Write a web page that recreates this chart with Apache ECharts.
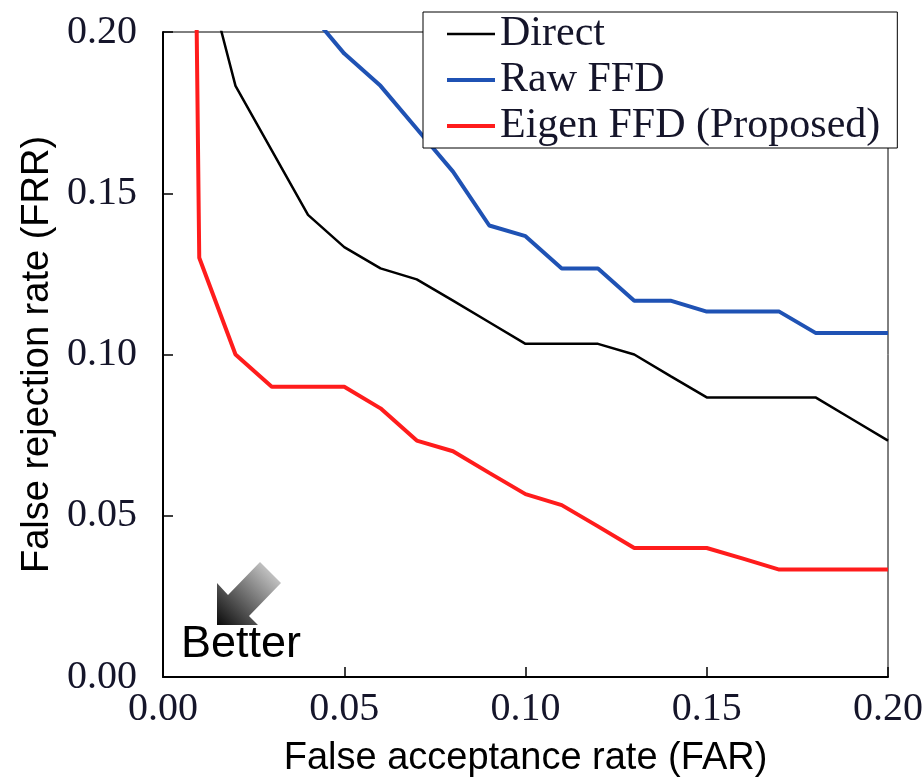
<!DOCTYPE html>
<html>
<head>
<meta charset="utf-8">
<script src="https://cdn.jsdelivr.net/npm/echarts@6/dist/echarts.min.js"></script>
<style>
html,body{margin:0;padding:0;background:#fff;}
#chart{width:924px;height:777px;}
</style>
</head>
<body>
<div id="chart"></div>
<script>
// ---- data ----
const seriesNames = ['Direct', 'Raw FFD', 'Eigen FFD (Proposed)'];

const directFAR = [0.01,0.02,0.03,0.04,0.05,0.06,0.07,0.08,0.09,0.10,0.11,0.12,0.13,0.14,0.15,0.16,0.17,0.18,0.19,0.20];
const directFRR = [0.2267,0.1833,0.1633,0.1433,0.1333,0.1267,0.1233,0.1167,0.1100,0.1033,0.1033,0.1033,0.1000,0.0933,0.0867,0.0867,0.0867,0.0867,0.0800,0.0733];

const rawFAR = [0.04,0.05,0.06,0.07,0.08,0.09,0.10,0.11,0.12,0.13,0.14,0.15,0.16,0.17,0.18,0.19,0.20];
const rawFRR = [0.2067,0.1933,0.1833,0.1700,0.1567,0.1400,0.1367,0.1267,0.1267,0.1167,0.1167,0.1133,0.1133,0.1133,0.1067,0.1067,0.1067];

const eigenFAR = [0.009,0.01,0.02,0.03,0.04,0.05,0.06,0.07,0.08,0.09,0.10,0.11,0.12,0.13,0.14,0.15,0.16,0.17,0.18,0.19,0.20];
const eigenFRR = [0.2300,0.1300,0.1000,0.0900,0.0900,0.0900,0.0833,0.0733,0.0700,0.0633,0.0567,0.0533,0.0467,0.0400,0.0400,0.0400,0.0367,0.0333,0.0333,0.0333,0.0333];

const axisMin = 0, axisMax = 0.20, axisStep = 0.05;
const xTitle = 'False acceptance rate (FAR)';
const yTitle = 'False rejection rate (FRR)';
const noteText = 'Better';

function pairs(xs, ys){ return xs.map((x,i)=>[x, ys[i]]); }

const chart = echarts.init(document.getElementById('chart'), null, {renderer:'canvas'});

const tickLabel = {
  fontFamily: 'Liberation Serif',
  fontSize: 40,
  color: '#15152a',
  formatter: v => v.toFixed(2)
};

const colors = ['#000000', '#1f52b4', '#ff1c1c'];
const widths = [2.5, 4, 4];

const option = {
  backgroundColor: '#ffffff',
  animation: false,
  grid: {
    left: 163, top: 32, right: 36, bottom: 100,
    containLabel: false, outerBoundsMode: 'none',
    show: true, borderColor: '#000', borderWidth: 1, backgroundColor: 'transparent'
  },
  xAxis: {
    type: 'value', min: axisMin, max: axisMax, interval: axisStep,
    name: xTitle, nameLocation: 'middle', nameGap: 63,
    nameTextStyle: {fontFamily: 'Liberation Sans', fontSize: 38, color: '#000'},
    axisLine: {show: true, onZero: false, lineStyle: {color: '#000', width: 2}},
    axisTick: {show: true, inside: true, length: 10, lineStyle: {color: '#000', width: 1.5}},
    axisLabel: Object.assign({margin: 12, showMinLabel: true, showMaxLabel: true}, tickLabel),
    splitLine: {show: false}
  },
  yAxis: {
    type: 'value', min: axisMin, max: axisMax, interval: axisStep,
    name: yTitle, nameLocation: 'middle', nameGap: 106, nameRotate: 90,
    nameTextStyle: {fontFamily: 'Liberation Sans', fontSize: 38, color: '#000'},
    axisLine: {show: true, onZero: false, lineStyle: {color: '#000', width: 2}},
    axisTick: {show: true, inside: true, length: 10, lineStyle: {color: '#000', width: 1.5}},
    axisLabel: Object.assign({margin: 26}, tickLabel),
    splitLine: {show: false}
  },
  legend: {
    orient: 'vertical',
    left: 423, top: 12,
    data: [
      {name: seriesNames[0], icon: 'path://M0,0h48v2.5h-48z'},
      {name: seriesNames[1], icon: 'path://M0,0h48v4h-48z'},
      {name: seriesNames[2], icon: 'path://M0,0h48v4h-48z'}
    ],
    backgroundColor: '#ffffff',
    borderColor: '#000', borderWidth: 1,
    padding: [1, 17, 1, 24],
    itemWidth: 48, itemHeight: 14, itemGap: 4,
    textStyle: {fontFamily: 'Liberation Serif', fontSize: 42, lineHeight: 40, color: '#15152a'},
    z: 10
  },
  series: [0,1,2].map(i => ({
    name: seriesNames[i], type: 'line',
    data: i === 0 ? pairs(directFAR, directFRR) : (i === 1 ? pairs(rawFAR, rawFRR) : pairs(eigenFAR, eigenFRR)),
    symbol: 'none', showSymbol: false,
    lineStyle: {color: colors[i], width: widths[i]}, itemStyle: {color: colors[i]},
    clip: true, z: 3
  })),
  graphic: [
    {
      type: 'polygon', z: 20,
      shape: {points: [[217,625],[217,583],[228,595],[260,562],[281,583],[249,616],[258,625]]},
      style: {
        fill: new echarts.graphic.LinearGradient(0, 1, 1, 0, [
          {offset: 0, color: '#0a0a0a'},
          {offset: 1, color: '#e4e4e4'}
        ])
      }
    },
    {
      type: 'text', z: 20, x: 181, y: 645,
      style: {text: noteText, font: '45px "Liberation Sans"', fill: '#000', textVerticalAlign: 'middle', textAlign: 'left'}
    }
  ]
};

chart.setOption(option);
</script>
</body>
</html>
